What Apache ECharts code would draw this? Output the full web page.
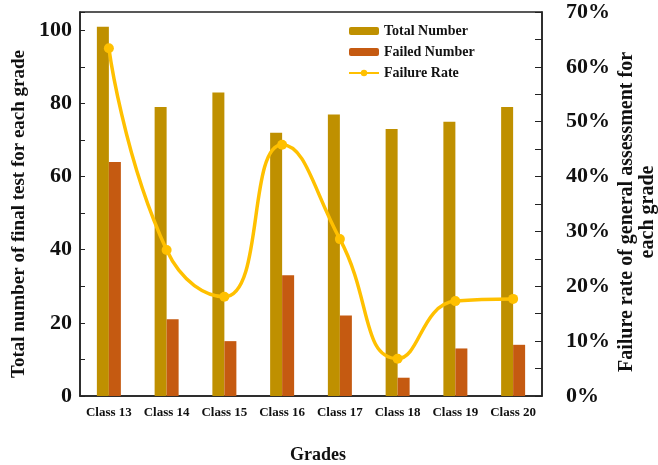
<!DOCTYPE html>
<html>
<head>
<meta charset="utf-8">
<script src="https://cdn.jsdelivr.net/npm/echarts@6/dist/echarts.min.js"></script>
<style>html,body{margin:0;padding:0;background:#fff}#c{width:658px;height:465px}</style>
</head>
<body>
<div id="c"></div>
<script>
const categories = ['Class 13','Class 14','Class 15','Class 16','Class 17','Class 18','Class 19','Class 20'];
const totalNumber = [101, 79, 83, 72, 77, 73, 75, 79];
const failedNumber = [64, 21, 15, 33, 22, 5, 13, 14];
const failureRate = [63.4, 26.6, 18.1, 45.8, 28.6, 6.8, 17.3, 17.7];

const FONT = '"Liberation Serif", "Times New Roman", serif';
const chart = echarts.init(document.getElementById('c'));
chart.setOption({
  animation: false,
  textStyle: { fontFamily: FONT },
  grid: { left: 80, right: 116, top: 12, bottom: 69, show: true, borderColor: '#222', borderWidth: 1.5,
          containLabel: false, outerBoundsMode: 'none' },
  legend: {
    orient: 'vertical', left: 343, top: 19, itemWidth: 30, itemHeight: 8, itemGap: 7,
    textStyle: { fontFamily: FONT, fontWeight: 'bold', fontSize: 14, color: '#111' },
    data: ['Total Number', 'Failed Number', 'Failure Rate']
  },
  xAxis: {
    type: 'category', data: categories,
    name: 'Grades', nameLocation: 'middle', nameGap: 50,
    nameTextStyle: { fontFamily: FONT, fontWeight: 'bold', fontSize: 18, color: '#111', padding: [0, 0, 0, 14] },
    axisLine: { lineStyle: { color: '#222', width: 1.5 } },
    axisTick: { show: false },
    axisLabel: { interval: 0, fontFamily: FONT, fontWeight: 'bold', fontSize: 13, color: '#111', margin: 10 }
  },
  yAxis: [
    {
      type: 'value', min: 0, max: 105, interval: 10,
      name: 'Total number of final test for each grade', nameLocation: 'middle', nameGap: 51, nameRotate: 90,
      nameMoveOverlap: false,
      nameTextStyle: { fontFamily: FONT, fontWeight: 'bold', fontSize: 19, color: '#111', padding: [0, 20, 0, 0] },
      axisLine: { show: true, lineStyle: { color: '#222', width: 1.5 } },
      axisTick: { show: true, inside: true, length: 5, lineStyle: { color: '#222' } },
      axisLabel: { fontFamily: FONT, fontWeight: 'bold', fontSize: 22, color: '#111', margin: 8,
        formatter: v => (v % 20 === 0 ? String(v) : '') },
      splitLine: { show: false }
    },
    {
      type: 'value', min: 0, max: 70, interval: 5, position: 'right',
      name: 'Failure rate of general assessment for\neach grade', nameLocation: 'middle', nameGap: 74, nameRotate: 90,
      nameMoveOverlap: false,
      nameTextStyle: { fontFamily: FONT, fontWeight: 'bold', fontSize: 20, color: '#111', lineHeight: 21, padding: [0, 16, 0, 0] },
      axisLine: { show: true, lineStyle: { color: '#222', width: 1.5 } },
      axisTick: { show: true, inside: true, length: 7, lineStyle: { color: '#222' } },
      axisLabel: { fontFamily: FONT, fontWeight: 'bold', fontSize: 22, color: '#111', margin: 24,
        formatter: v => (v % 10 === 0 ? v + '%' : '') },
      splitLine: { show: false }
    }
  ],
  series: [
    { name: 'Total Number', type: 'bar', data: totalNumber, barWidth: 12, barGap: '0%', itemStyle: { color: '#BF9000' } },
    { name: 'Failed Number', type: 'bar', data: failedNumber, barWidth: 12, barGap: '0%', itemStyle: { color: '#C55A11' } },
    { name: 'Failure Rate', type: 'line', yAxisIndex: 1, data: failureRate, smooth: 0.5,
      symbol: 'circle', symbolSize: 10,
      lineStyle: { color: '#FFC000', width: 3.5 }, itemStyle: { color: '#FFC000' } }
  ]
});
</script>
</body>
</html>
